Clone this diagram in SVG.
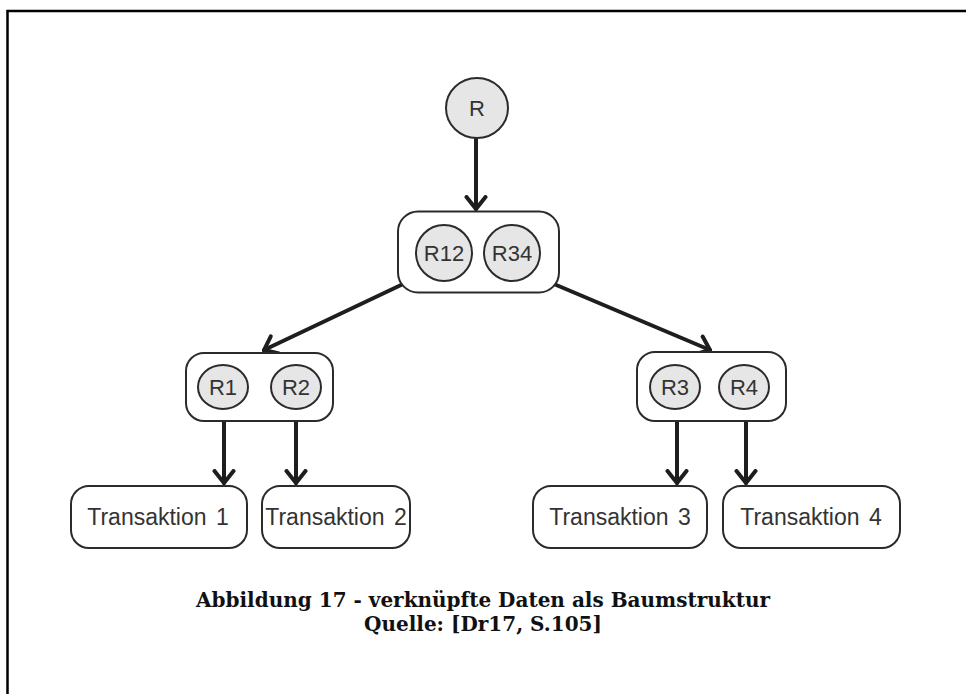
<svg xmlns="http://www.w3.org/2000/svg" width="966" height="694" viewBox="0 0 966 694">
  <style>
    .frame { fill: none; stroke: #000; stroke-width: 2.5; }
    .box { fill: #fff; stroke: #2b2b2b; stroke-width: 2; }
    .node { fill: #e6e6e6; stroke: #2b2b2b; stroke-width: 2; }
    .lbl { font-family: "Liberation Sans", Arial, sans-serif; font-size: 22px; fill: #333; text-anchor: middle; }
    .tlbl { font-family: "Liberation Sans", Arial, sans-serif; font-size: 23px; fill: #333; text-anchor: middle; word-spacing: 3px; }
    .edge { fill: none; stroke: #1e1e1e; stroke-width: 4; stroke-linecap: round; }
    .cap { font-family: "DejaVu Serif", "Liberation Serif", serif; font-weight: bold; font-size: 20px; fill: #111; text-anchor: middle; }
  </style>
  <defs>
    <marker id="arrow" viewBox="-14 -12 16 24" refX="0" refY="0" markerWidth="16" markerHeight="24" markerUnits="userSpaceOnUse" orient="auto">
      <path d="M -12 -9.5 L 0 0 L -12 9.5" fill="none" stroke="#1e1e1e" stroke-width="4" stroke-linejoin="miter" stroke-linecap="round"/>
    </marker>
  </defs>

  <rect width="966" height="694" fill="#fff"/>
  <!-- page frame (open on the right and bottom) -->
  <path class="frame" d="M 7.5 694 V 11 H 966"/>

  <!-- connectors -->
  <g id="connectors">
    <line class="edge" x1="476" y1="139" x2="476" y2="209" marker-end="url(#arrow)"/>
    <line class="edge" x1="420" y1="276" x2="264" y2="350" marker-end="url(#arrow)"/>
    <line class="edge" x1="535" y1="276" x2="710" y2="350" marker-end="url(#arrow)"/>
    <line class="edge" x1="224" y1="409" x2="224" y2="483" marker-end="url(#arrow)"/>
    <line class="edge" x1="296" y1="409" x2="296" y2="483" marker-end="url(#arrow)"/>
    <line class="edge" x1="677" y1="409" x2="677" y2="483" marker-end="url(#arrow)"/>
    <line class="edge" x1="746" y1="409" x2="746" y2="483" marker-end="url(#arrow)"/>
  </g>

  <!-- root -->
  <g id="node-R">
    <ellipse class="node" cx="477" cy="108" rx="31" ry="30"/>
    <text class="lbl" x="477" y="116">R</text>
  </g>

  <!-- second level: R12 / R34 -->
  <g id="node-R12-R34">
    <rect class="box" x="398" y="211.5" width="161" height="81" rx="20"/>
    <circle class="node" cx="444" cy="253" r="28"/>
    <text class="lbl" x="444" y="261">R12</text>
    <circle class="node" cx="512" cy="253" r="28"/>
    <text class="lbl" x="512" y="261">R34</text>
  </g>

  <!-- third level left: R1 / R2 -->
  <g id="node-R1-R2">
    <rect class="box" x="186" y="353" width="147" height="68" rx="18"/>
    <ellipse class="node" cx="223" cy="387" rx="25" ry="22"/>
    <text class="lbl" x="223" y="395">R1</text>
    <ellipse class="node" cx="296" cy="387" rx="25" ry="22"/>
    <text class="lbl" x="296" y="395">R2</text>
  </g>

  <!-- third level right: R3 / R4 -->
  <g id="node-R3-R4">
    <rect class="box" x="637" y="352" width="149" height="69" rx="18"/>
    <ellipse class="node" cx="675" cy="387" rx="25" ry="22"/>
    <text class="lbl" x="675" y="395">R3</text>
    <ellipse class="node" cx="744" cy="387" rx="25" ry="22"/>
    <text class="lbl" x="744" y="395">R4</text>
  </g>

  <!-- leaves -->
  <g id="node-T1">
    <rect class="box" x="71" y="486" width="176" height="62" rx="18"/>
    <text class="tlbl" x="158" y="525">Transaktion 1</text>
  </g>
  <g id="node-T2">
    <rect class="box" x="262" y="486" width="148" height="62" rx="18"/>
    <text class="tlbl" x="336" y="525">Transaktion 2</text>
  </g>
  <g id="node-T3">
    <rect class="box" x="533" y="486" width="174" height="62" rx="18"/>
    <text class="tlbl" x="620" y="525">Transaktion 3</text>
  </g>
  <g id="node-T4">
    <rect class="box" x="723" y="486" width="177" height="62" rx="18"/>
    <text class="tlbl" x="811" y="525">Transaktion 4</text>
  </g>

  <!-- caption -->
  <g id="caption">
    <text class="cap" x="483" y="607">Abbildung 17 - verknüpfte Daten als Baumstruktur</text>
    <text class="cap" x="483" y="631">Quelle: [Dr17, S.105]</text>
  </g>
</svg>
